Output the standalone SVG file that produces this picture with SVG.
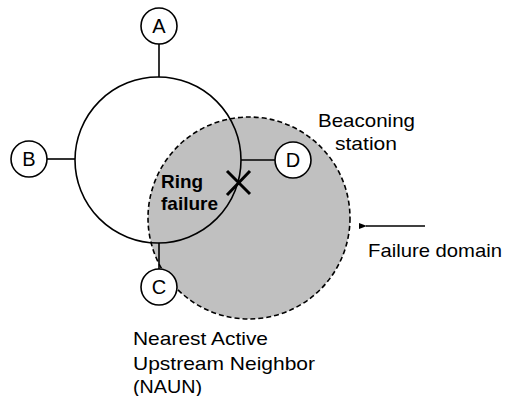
<svg xmlns="http://www.w3.org/2000/svg" width="508" height="396" viewBox="0 0 508 396">
<style>
.ln{stroke:#000;stroke-width:1.6;fill:none}
.nd{fill:#fff;stroke:#000;stroke-width:1.6}
.t{font-family:"Liberation Sans",Arial,sans-serif;font-size:19px;fill:#000}
.lt{font-family:"Liberation Sans",Arial,sans-serif;font-size:20px;fill:#000;text-anchor:middle}
.b{font-weight:bold}
</style>
<defs>
<marker id="ah" markerWidth="8" markerHeight="6" refX="1" refY="3" orient="auto" markerUnits="userSpaceOnUse">
<path d="M8,0 L0,3 L8,6 Z" fill="#000"/>
</marker>
</defs>
<g id="domain">
<circle cx="249" cy="218" r="101" fill="#c0c0c0" stroke="#000" stroke-width="1.6" stroke-dasharray="5,3"/>
</g>
<g id="ring">
<circle class="ln" cx="158" cy="160" r="83"/>
</g>
<g id="connectors">
<line class="ln" x1="159" y1="44" x2="159" y2="77"/>
<line class="ln" x1="47" y1="159" x2="75" y2="159"/>
<line class="ln" x1="241" y1="160" x2="275" y2="160"/>
<line class="ln" x1="159" y1="243" x2="159" y2="269"/>
<line class="ln" x1="425" y1="226" x2="366" y2="226" marker-end="url(#ah)"/>
</g>
<g id="nodeA"><circle class="nd" cx="159" cy="26" r="18"/><text class="lt" x="159" y="33">A</text></g>
<g id="nodeB"><circle class="nd" cx="29" cy="159" r="18"/><text class="lt" x="29" y="166">B</text></g>
<g id="nodeC"><circle class="nd" cx="159" cy="287" r="18"/><text class="lt" x="159" y="294">C</text></g>
<g id="nodeD"><circle class="nd" cx="293" cy="160" r="18"/><text class="lt" x="293" y="167">D</text></g>
<g id="failure">
<path d="M227,171 L250,194 M227,195 L250,171" stroke="#000" stroke-width="3" fill="none"/>
<text class="t b" x="161" y="188" textLength="42" lengthAdjust="spacingAndGlyphs">Ring</text>
<text class="t b" x="161" y="210" textLength="57" lengthAdjust="spacingAndGlyphs">failure</text>
</g>
<g id="labels">
<text class="t" x="318" y="127" textLength="97" lengthAdjust="spacingAndGlyphs">Beaconing</text>
<text class="t" x="335" y="150" textLength="62" lengthAdjust="spacingAndGlyphs">station</text>
<text class="t" x="368" y="257" textLength="134" lengthAdjust="spacingAndGlyphs">Failure domain</text>
<text class="t" x="133" y="345" textLength="135" lengthAdjust="spacingAndGlyphs">Nearest Active</text>
<text class="t" x="133" y="370" textLength="182" lengthAdjust="spacingAndGlyphs">Upstream Neighbor</text>
<text class="t" x="133" y="393" textLength="69" lengthAdjust="spacingAndGlyphs">(NAUN)</text>
</g>
</svg>
